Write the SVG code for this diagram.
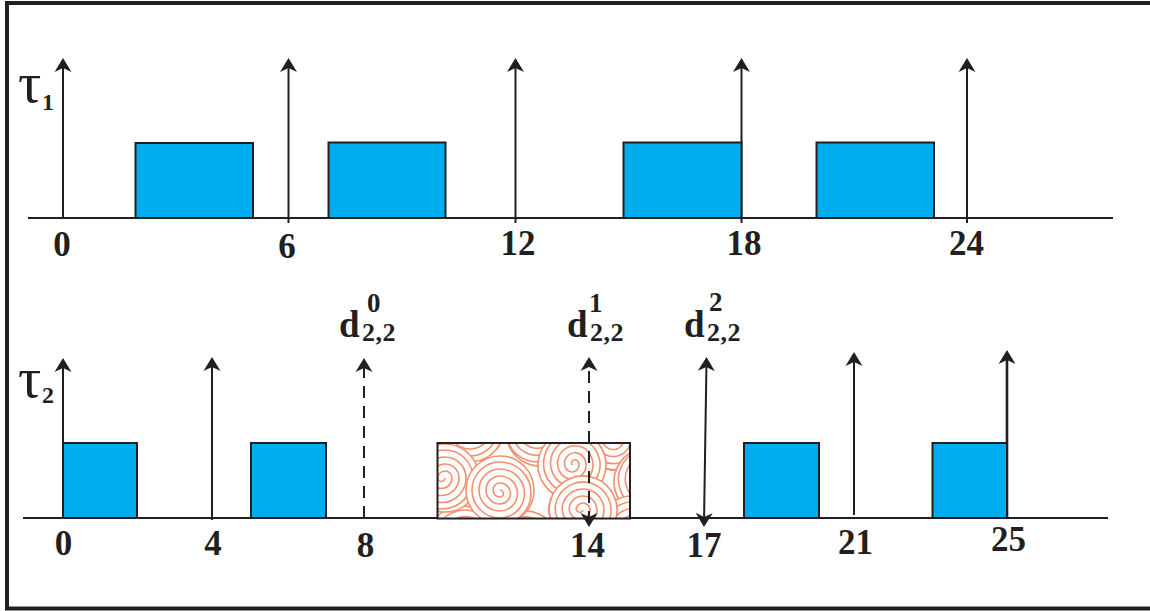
<svg xmlns="http://www.w3.org/2000/svg" xmlns:xlink="http://www.w3.org/1999/xlink" width="1150" height="611" viewBox="0 0 1150 611">
<style>
.ln{stroke:#231F20;stroke-width:2;fill:none}
.ar{marker-end:url(#ah)}
.dbl{marker-start:url(#ahs);marker-end:url(#ah)}
.dash{stroke-dasharray:12 8}
.box{fill:#00AEEF;stroke:#231F20;stroke-width:2}
.num{font-family:"Liberation Serif","Times New Roman",serif;font-weight:bold;font-size:35px;fill:#231F20;text-anchor:middle}
.d{font-family:"Liberation Serif","Times New Roman",serif;font-weight:bold;fill:#231F20}
.dm{font-size:37px}
.ds{font-size:27px}
.dsub{font-size:26px;letter-spacing:0.5px}
.tau{font-family:"Liberation Serif","Times New Roman",serif;font-size:58px;fill:#231F20}
.sub{font-family:"Liberation Serif","Times New Roman",serif;font-weight:bold;font-size:24px;fill:#231F20}
.sw{fill:#fff;stroke:#F4906F;stroke-width:1.6}
.sp{fill:none;stroke:#F4906F;stroke-width:1.6}
</style>
<defs>
<marker id="ah" viewBox="-11 -10 16 20" refX="0" refY="0" markerWidth="16" markerHeight="20" markerUnits="userSpaceOnUse" orient="auto">
<path d="M4,0 L-10,-8.5 L-6,0 L-10,8.5 Z" fill="#231F20"/>
</marker>
<marker id="ahs" viewBox="-11 -10 16 20" refX="0" refY="0" markerWidth="16" markerHeight="20" markerUnits="userSpaceOnUse" orient="auto-start-reverse">
<path d="M4,0 L-10,-8.5 L-6,0 L-10,8.5 Z" fill="#231F20"/>
</marker>
<g id="sw">
<circle class="sw" r="34"/>
<path class="sp" d="M0,0 A3.5,3.5 0 0 1 7,0 A7,7 0 0 1 -7,0 A10.5,10.5 0 0 1 14,0 A14,14 0 0 1 -14,0 A17.5,17.5 0 0 1 21,0 A21,21 0 0 1 -21,0 A24.5,24.5 0 0 1 28,0 A28,28 0 0 1 -28,0 A31,31 0 0 1 34,0"/>
</g>
<clipPath id="hc"><rect x="437.5" y="443" width="192.5" height="75.5"/></clipPath>
</defs>

<path id="frame" d="M1152,3 H7 V608.5 H1152" fill="none" stroke="#231F20" stroke-width="4"/>

<g id="connectors">
<line class="ln" x1="28" y1="218" x2="1113" y2="218"/>
<line class="ln ar" x1="63" y1="218" x2="63" y2="62"/>
<line class="ln ar" x1="288.5" y1="223" x2="288.5" y2="62"/>
<line class="ln ar" x1="515.5" y1="223" x2="515.5" y2="62"/>
<line class="ln ar" x1="741.5" y1="223" x2="741.5" y2="62"/>
<line class="ln ar" x1="967" y1="223" x2="967" y2="62"/>
<line class="ln" x1="23" y1="518" x2="1108" y2="518"/>
<line class="ln ar" x1="63" y1="518" x2="63" y2="362"/>
<line class="ln ar" x1="212" y1="520" x2="212" y2="361"/>
<line class="ln ar dash" x1="364" y1="518" x2="364" y2="362"/>
<line class="ln ar" x1="854" y1="515" x2="854" y2="356"/>
<line class="ln ar" x1="1007" y1="518" x2="1007" y2="354" style="stroke-width:2.6"/>
</g>

<g id="tau1-jobs">
<g id="t1-job1"><rect class="box" x="135.5" y="143" width="117.5" height="75"/></g>
<g id="t1-job2"><rect class="box" x="328.5" y="142.5" width="117" height="75.5"/></g>
<g id="t1-job3"><rect class="box" x="623.5" y="142.5" width="118" height="75.5"/></g>
<g id="t1-job4"><rect class="box" x="816.5" y="142.5" width="117.5" height="75.5"/></g>
</g>

<g id="tau2-jobs">
<g id="t2-job1"><rect class="box" x="63" y="443" width="74" height="75"/></g>
<g id="t2-job2"><rect class="box" x="251" y="443" width="75" height="75"/></g>
<g id="t2-job3">
<rect x="437.5" y="443" width="192.5" height="75.5" fill="#fff"/>
<g clip-path="url(#hc)">
<use xlink:href="#sw" transform="translate(470,428) rotate(40)"/>
<use xlink:href="#sw" transform="translate(540,432) rotate(200)"/>
<use xlink:href="#sw" transform="translate(615,436) rotate(120)"/>
<use xlink:href="#sw" transform="translate(648,482) rotate(300)"/>
<use xlink:href="#sw" transform="translate(462,540) rotate(20)"/>
<use xlink:href="#sw" transform="translate(525,545) rotate(250)"/>
<use xlink:href="#sw" transform="translate(445,478) rotate(180)"/>
<use xlink:href="#sw" transform="translate(500,490) rotate(90)"/>
<use xlink:href="#sw" transform="translate(572,465) rotate(330)"/>
<use xlink:href="#sw" transform="translate(632,530) rotate(60)"/>
<use xlink:href="#sw" transform="translate(583,510) rotate(200)"/>
</g>
<rect x="437.5" y="443" width="192.5" height="75.5" fill="none" stroke="#231F20" stroke-width="2"/>
</g>
<g id="t2-job4"><rect class="box" x="744" y="443" width="75" height="75"/></g>
<g id="t2-job5"><rect class="box" x="932.5" y="443" width="74.5" height="75"/></g>
</g>

<g id="deadline-arrows">
<line class="ln dbl dash" x1="589" y1="523" x2="589" y2="361"/>
<line class="ln dbl" x1="704" y1="523" x2="706.5" y2="361"/>
</g>

<g id="labels">
<text class="tau" x="18" y="102">τ</text><text class="sub" x="42" y="110">1</text>
<text class="tau" x="18" y="397">τ</text><text class="sub" x="42" y="403">2</text>

<text class="num" x="62" y="256">0</text>
<text class="num" x="287" y="258">6</text>
<text class="num" x="518" y="255">12</text>
<text class="num" x="744" y="255">18</text>
<text class="num" x="966.5" y="255">24</text>

<text class="num" x="63.5" y="555">0</text>
<text class="num" x="213" y="555">4</text>
<text class="num" x="365.5" y="557">8</text>
<text class="num" x="587.5" y="557">14</text>
<text class="num" x="704" y="557">17</text>
<text class="num" x="855.5" y="554">21</text>
<text class="num" x="1008.5" y="551">25</text>

<text class="d dm" x="339" y="337">d</text><text class="d ds" x="367" y="312">0</text><text class="d dsub" x="362" y="341">2,2</text>
<text class="d dm" x="567" y="337">d</text><text class="d ds" x="589" y="312">1</text><text class="d dsub" x="590" y="341">2,2</text>
<text class="d dm" x="684" y="337">d</text><text class="d ds" x="709" y="311">2</text><text class="d dsub" x="707" y="341">2,2</text>
</g>
</svg>
